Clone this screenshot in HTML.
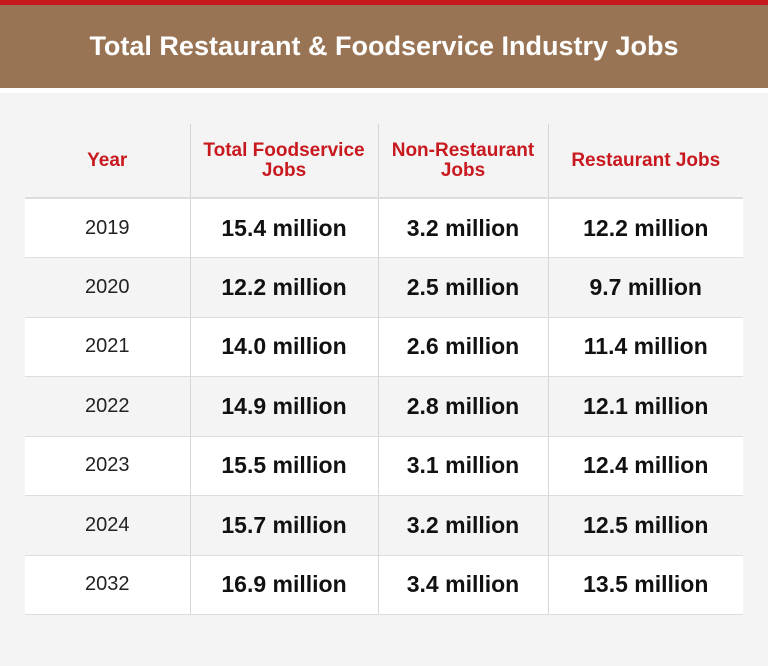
<!DOCTYPE html>
<html><head><meta charset="utf-8"><style>
*{margin:0;padding:0;box-sizing:border-box}
body{width:768px;height:666px;background:#f4f4f4;font-family:"Liberation Sans Narrow","Liberation Sans",sans-serif;overflow:hidden;position:relative}
#topbar{position:absolute;left:0;top:0;width:768px;height:5px;background:#c8191f}
#banner{position:absolute;left:0;top:5px;width:768px;height:83px;background:#987454;color:#fff;font-weight:bold;font-size:27px;text-align:center;line-height:83px}
#gap{position:absolute;left:0;top:88px;width:768px;height:5px;background:#fff}
table{position:absolute;left:25px;top:124px;width:718px;border-collapse:collapse}
th{color:#c8191f;font-weight:bold;font-size:19px;line-height:20px;height:74px;text-align:center;border-left:1px solid #d6d6d6;border-bottom:2px solid #ddd}
th:first-child,td:first-child{border-left:none}
td{height:59.5px;text-align:center;font-size:23px;font-weight:bold;color:#111;border-left:1px solid #d6d6d6;border-bottom:1px solid #ddd}
td:first-child{font-weight:normal;font-size:20px;color:#222}
tr:nth-child(odd) td{background:#fff}
tr:nth-child(even) td{background:#f4f4f4}
</style></head><body>
<div id="topbar"></div>
<div id="banner">Total Restaurant &amp; Foodservice Industry Jobs</div>
<div id="gap"></div>
<table>
<colgroup><col style="width:165px"><col style="width:188px"><col style="width:170px"><col style="width:195px"></colgroup>
<thead><tr>
<th>Year</th>
<th>Total Foodservice<br>Jobs</th>
<th>Non-Restaurant<br>Jobs</th>
<th>Restaurant Jobs</th>
</tr></thead>
<tbody id="tb"></tbody>
</table>
<script>
const years=["2019","2020","2021","2022","2023","2024","2032"];
const totalJobs=[15.4,12.2,14.0,14.9,15.5,15.7,16.9];
const nonRestaurant=[3.2,2.5,2.6,2.8,3.1,3.2,3.4];
const restaurant=[12.2,9.7,11.4,12.1,12.4,12.5,13.5];
const tb=document.getElementById('tb');
years.forEach((y,i)=>{
  const tr=document.createElement('tr');
  
  
  const vals=[y,totalJobs[i].toFixed(1)+' million',nonRestaurant[i].toFixed(1)+' million',restaurant[i].toFixed(1)+' million'];
  const names=['year','total-jobs','non-restaurant-jobs','restaurant-jobs'];
  vals.forEach((v,j)=>{
    const td=document.createElement('td');
    
    
    td.textContent=v;
    tr.appendChild(td);
  });
  tb.appendChild(tr);
});
</script>
</body></html>
